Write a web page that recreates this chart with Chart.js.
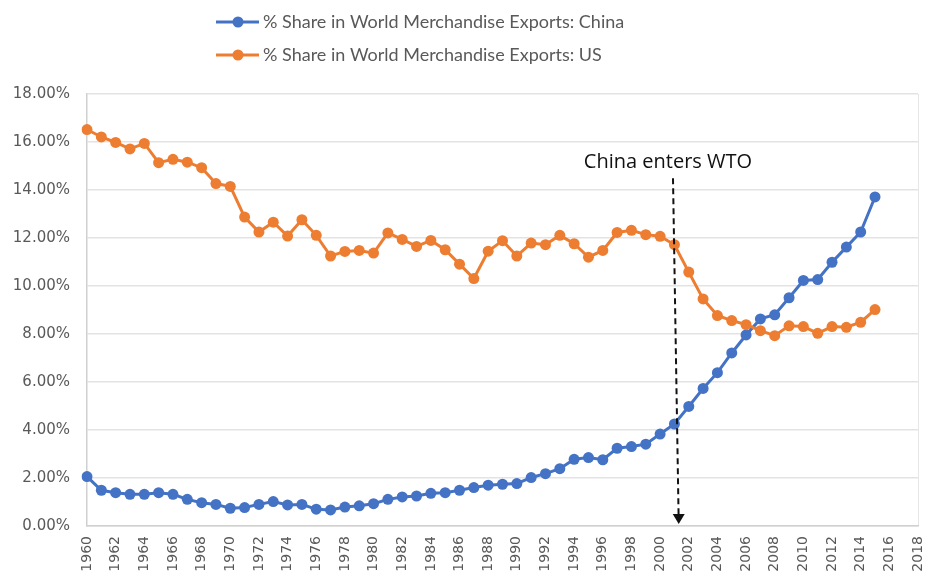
<!DOCTYPE html>
<html>
<head>
<meta charset="utf-8">
<script src="https://cdn.jsdelivr.net/npm/chart.js@4.4.1/dist/chart.umd.min.js"></script>
<style>
  body { margin: 0; background: #fff; }
</style>
</head>
<body>
<canvas id="exports" width="930" height="572"></canvas>
<script>
// category axis runs on to 2018, data stops at 2015
const years = [
  '1960','1961','1962','1963','1964','1965','1966','1967','1968','1969',
  '1970','1971','1972','1973','1974','1975','1976','1977','1978','1979',
  '1980','1981','1982','1983','1984','1985','1986','1987','1988','1989',
  '1990','1991','1992','1993','1994','1995','1996','1997','1998','1999',
  '2000','2001','2002','2003','2004','2005','2006','2007','2008','2009',
  '2010','2011','2012','2013','2014','2015','2016','2017','2018'
];

const chinaLabel = '% Share in World Merchandise Exports: China';
const usLabel = '% Share in World Merchandise Exports: US';

const chinaShare = [
  2.06, 1.49, 1.39, 1.32, 1.32, 1.39, 1.32, 1.11, 0.97, 0.90,
  0.74, 0.77, 0.90, 1.02, 0.88, 0.90, 0.70, 0.67, 0.79, 0.84,
  0.93, 1.11, 1.21, 1.25, 1.36, 1.39, 1.49, 1.60, 1.70, 1.74,
  1.77, 2.02, 2.18, 2.39, 2.78, 2.85, 2.76, 3.24, 3.31, 3.41,
  3.83, 4.25, 4.98, 5.73, 6.39, 7.21, 7.96, 8.63, 8.80, 9.51,
  10.23, 10.27, 10.99, 11.62, 12.25, 13.71
];

const usShare = [
  16.52, 16.21, 15.98, 15.71, 15.94, 15.14, 15.28, 15.16, 14.93, 14.27,
  14.15, 12.87, 12.25, 12.66, 12.08, 12.76, 12.11, 11.25, 11.44, 11.48,
  11.37, 12.21, 11.94, 11.65, 11.90, 11.51, 10.91, 10.31, 11.45, 11.89,
  11.25, 11.79, 11.72, 12.11, 11.76, 11.20, 11.48, 12.23, 12.32, 12.14,
  12.07, 11.72, 10.58, 9.46, 8.77, 8.56, 8.39, 8.14, 7.93, 8.34,
  8.31, 8.03, 8.31, 8.28, 8.49, 9.02
];

// annotation, in axis units (category index, percent)
const wtoText = 'China enters WTO';
const wtoTextAt = [40.55, 14.9];
const wtoArrowFrom = [40.9, 14.49];
const wtoArrowTo = [41.3, 0.08];

const blue = '#4472C4';
const orange = '#ED7D31';
const grey = '#595959';

const wtoNote = {
  id: 'wtoNote',
  afterDatasetsDraw(chart) {
    const ctx = chart.ctx;
    const x = chart.scales.x, y = chart.scales.y;
    ctx.save();
    ctx.fillStyle = '#111';
    ctx.font = '20px "Open Sans"';
    ctx.textAlign = 'center';
    ctx.textBaseline = 'alphabetic';
    ctx.fillText(wtoText, x.getPixelForValue(wtoTextAt[0]), y.getPixelForValue(wtoTextAt[1]));

    const x1 = x.getPixelForValue(wtoArrowFrom[0]), y1 = y.getPixelForValue(wtoArrowFrom[1]);
    const x2 = x.getPixelForValue(wtoArrowTo[0]), y2 = y.getPixelForValue(wtoArrowTo[1]);
    const head = 10;
    const t = (y2 - head - y1) / (y2 - y1);
    ctx.strokeStyle = '#111';
    ctx.lineWidth = 2;
    ctx.setLineDash([6, 4]);
    ctx.beginPath();
    ctx.moveTo(x1, y1);
    ctx.lineTo(x1 + (x2 - x1) * t, y2 - head);
    ctx.stroke();
    ctx.setLineDash([]);
    ctx.beginPath();
    ctx.moveTo(x2, y2);
    ctx.lineTo(x2 - 6, y2 - head);
    ctx.lineTo(x2 + 6, y2 - head);
    ctx.closePath();
    ctx.fill();
    ctx.restore();
  }
};

// two stacked legend rows like the excel original
const stackedLegend = {
  id: 'stackedLegend',
  afterDraw(chart) {
    const ctx = chart.ctx;
    const rows = [[chinaLabel, blue, 22], [usLabel, orange, 55]];
    ctx.save();
    ctx.font = '18px Lato';
    ctx.textBaseline = 'middle';
    ctx.textAlign = 'left';
    rows.forEach(function (r) {
      ctx.strokeStyle = r[1];
      ctx.fillStyle = r[1];
      ctx.lineWidth = 3;
      ctx.beginPath();
      ctx.moveTo(216, r[2]);
      ctx.lineTo(259, r[2]);
      ctx.stroke();
      ctx.beginPath();
      ctx.arc(238, r[2], 5.5, 0, Math.PI * 2);
      ctx.fill();
      ctx.fillStyle = grey;
      ctx.fillText(r[0], 263, r[2]);
    });
    ctx.restore();
  }
};

new Chart(document.getElementById('exports'), {
  type: 'line',
  data: {
    labels: years,
    datasets: [{
      label: chinaLabel,
      data: chinaShare,
      borderColor: blue,
      backgroundColor: blue,
      borderWidth: 3,
      pointRadius: 5.5,
      pointBorderWidth: 0,
      order: 1
    },
    {
      label: usLabel,
      data: usShare,
      borderColor: orange,
      backgroundColor: orange,
      borderWidth: 3,
      pointRadius: 5.5,
      pointBorderWidth: 0,
      order: 0
    }]
  },
  options: {
    responsive: false,
    animation: false,
    layout: { padding: { top: 94, right: 0, bottom: 0, left: 0 } },
    plugins: {
      legend: { display: false },
      tooltip: { enabled: false }
    },
    scales: {
      x: {
        type: 'category',
        offset: false,
        afterFit: function (s) {
          s.height = 46;
          s.paddingRight = 12;
        },
        grid: {
          drawTicks: false,
          color: function (c) { return c.index === years.length - 1 ? '#e6e6e6' : 'rgba(0,0,0,0)'; }
        },
        border: { color: '#d0d0d0', width: 1.5 },
        ticks: {
          autoSkip: false,
          minRotation: 90,
          maxRotation: 90,
          padding: 10,
          color: grey,
          font: { family: 'DejaVu Sans', size: 14 },
          callback: function (value, index) {
            return index % 2 === 0 ? this.getLabelForValue(value) : '';
          }
        }
      },
      y: {
        min: 0,
        max: 18,
        afterFit: function (s) { s.width = 87; },
        grid: { color: '#e3e3e3', lineWidth: 1.5, drawTicks: false },
        border: { color: '#d0d0d0', width: 1.5 },
        ticks: {
          stepSize: 2,
          padding: 17,
          color: grey,
          font: { family: 'DejaVu Sans', size: 15 },
          callback: function (v) { return v.toFixed(2) + '%'; }
        }
      }
    }
  },
  plugins: [wtoNote, stackedLegend]
});
</script>
</body>
</html>
